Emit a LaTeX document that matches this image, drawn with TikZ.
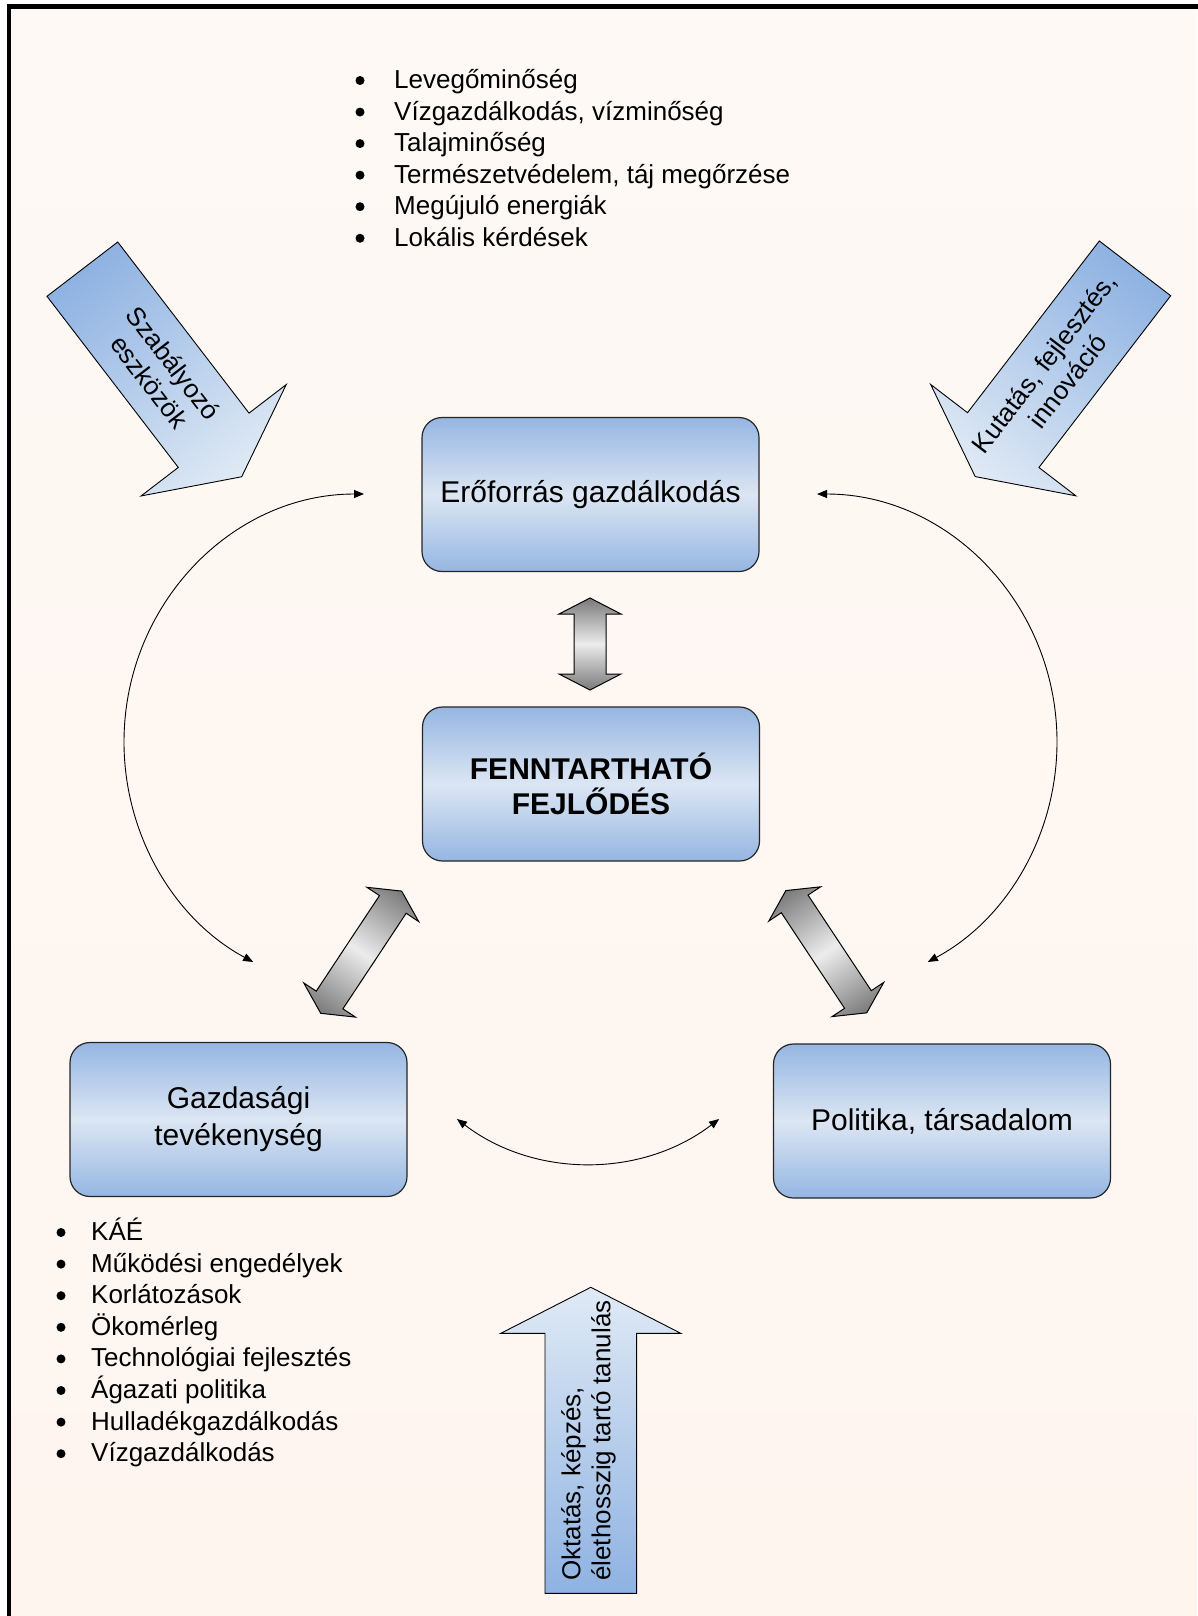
\documentclass[tikz,border=0pt]{standalone}
\usepackage{fontspec}
\setmainfont{Liberation Sans}
\usetikzlibrary{arrows.meta}

\definecolor{paper}{HTML}{FEF9F5}
\definecolor{paperlow}{HTML}{FEF5EF}
\definecolor{boxblue}{HTML}{95B6E2}
\definecolor{boxlight}{HTML}{DCE6F3}
\definecolor{arrowblue}{HTML}{8EB2E2}
\definecolor{arrowlight}{HTML}{E0EAF5}
\definecolor{steel}{HTML}{7A7A7A}
\definecolor{steellight}{HTML}{ECECEC}

\tikzset{
  panel/.style={draw=black!85, line width=1.2pt, rounded corners=20pt,
    minimum width=337pt, minimum height=154pt,
    top color=boxblue, bottom color=boxblue, middle color=boxlight,
    font=\fontsize{30}{37}\selectfont, align=center},
  listtext/.style={anchor=base west, inner sep=0pt, font=\fontsize{26}{31}\selectfont},
  dot/.style={fill=black, circle, inner sep=0pt, minimum size=9pt},
  loop arrow/.style={line width=0.9pt,
    {Triangle[length=10pt,width=8pt]}-{Triangle[length=10pt,width=8pt]}},
  bigarrow/.style={draw=black, line width=0.9pt, left color=arrowblue, right color=arrowlight},
  linkarrow/.style={draw=black, line width=1pt, left color=steel, right color=steel,
    middle color=steellight},
  arrowlabel/.style={font=\fontsize{26}{30}\selectfont, inner sep=0pt},
}

% double-headed grey arrow centred at the origin along +x; #1 = half length
\newcommand{\twoheaded}[1]{%
  \path[linkarrow] (#1,0) -- ({#1-16},31) -- ({#1-16},16) -- ({-#1+16},16)
    -- ({-#1+16},31) -- (-#1,0) -- ({-#1+16},-31) -- ({-#1+16},-16)
    -- ({#1-16},-16) -- ({#1-16},-31) -- cycle;}

\begin{document}
\begin{tikzpicture}[x=1pt,y=-1pt]
\useasboundingbox (0,0) rectangle (1197,1616);
\fill[white] (0,0) rectangle (1197,1616);
\shade[top color=paper, bottom color=paperlow] (9,6.5) rectangle (1197,1616);
\draw[line width=4.8pt] (9,1700) -- (9,6.5) -- (1260,6.5);

% main boxes
\node[panel] (res) at (590.5,494.5) {Erőforrás gazdálkodás};
\node[panel, font=\fontsize{30}{35}\selectfont\bfseries] (sd) at (591,784) {FENNTARTHATÓ\\FEJLŐDÉS};
\node[panel] (eco) at (238.5,1119.5) {Gazdasági\\tevékenység};
\node[panel] (pol) at (942,1121) {Politika, társadalom};

% top list
\foreach \t [count=\i] in {Levegőminőség, {Vízgazdálkodás, vízminőség}, Talajminőség,
    {Természetvédelem, táj megőrzése}, Megújuló energiák, Lokális kérdések} {
  \node[dot] (td\i) at (360,{80.5+31.55*(\i-1)}) {};
  \node[listtext] (tl\i) at (394,{88.5+31.55*(\i-1)}) {\t};
}

% bottom-left list
\foreach \t [count=\i] in {KÁÉ, Működési engedélyek, Korlátozások, Ökomérleg,
    Technológiai fejlesztés, Ágazati politika, Hulladékgazdálkodás, Vízgazdálkodás} {
  \node[dot] (bd\i) at (61,{1232.5+31.6*(\i-1)}) {};
  \node[listtext] (bl\i) at (91,{1240.5+31.6*(\i-1)}) {\t};
}

% large input arrows
\begin{scope}[transform canvas={shift={(82.35,269.15)}, rotate=-52.5}]
  \path[bigarrow] (0,44.6) -- (215.7,44.6) -- (215.7,91.5) -- (261.7,0)
    -- (215.7,-91.5) -- (215.7,-44.6) -- (0,-44.6) -- cycle;
\end{scope}
\begin{scope}[transform canvas={shift={(1135,268.35)}, rotate=-127.5}]
  \path[bigarrow] (0,45) -- (216.5,45) -- (216.5,91.5) -- (262.5,0)
    -- (216.5,-91.5) -- (216.5,-45) -- (0,-45) -- cycle;
\end{scope}
\begin{scope}[transform canvas={shift={(590.8,1593.3)}, rotate=90}]
  \path[bigarrow] (0,45.8) -- (260,45.8) -- (260,90) -- (306,0)
    -- (260,-90) -- (260,-45.8) -- (0,-45.8) -- cycle;
\end{scope}
\node[arrowlabel, rotate=-52.5, align=center] (regtext) at (161.5,372.5) {Szabályozó\\eszközök};
\node[arrowlabel, rotate=52.5, align=center] (rdtext) at (1055.5,372) {Kutatás, fejlesztés,\\innováció};
\node[arrowlabel, rotate=90, align=left, anchor=west] (edtext) at (588.5,1581) {Oktatás, képzés,\\élethosszig tartó tanulás};

% grey two-way links
\begin{scope}[transform canvas={shift={(590,644)}, rotate=90}]
  \twoheaded{46}
\end{scope}
\begin{scope}[transform canvas={shift={(361.2,952.2)}, rotate=56.5}]
  \twoheaded{73.3}
\end{scope}
\begin{scope}[transform canvas={shift={(826.3,951.7)}, rotate=-56.5}]
  \twoheaded{73.3}
\end{scope}

% thin cycle arrows
\coordinate (lt) at (364,494);
\coordinate (rt) at (817,494);
\coordinate (bl) at (457,1119);
\draw[loop arrow] (lt) arc[start angle=270, end angle=117.5, x radius=240, y radius=248];
\draw[loop arrow] (rt) arc[start angle=270, end angle=422.5, x radius=240, y radius=248];
\draw[loop arrow] (bl) arc[start angle=127.4, end angle=52.6, radius=215.8];
\end{tikzpicture}
\end{document}
